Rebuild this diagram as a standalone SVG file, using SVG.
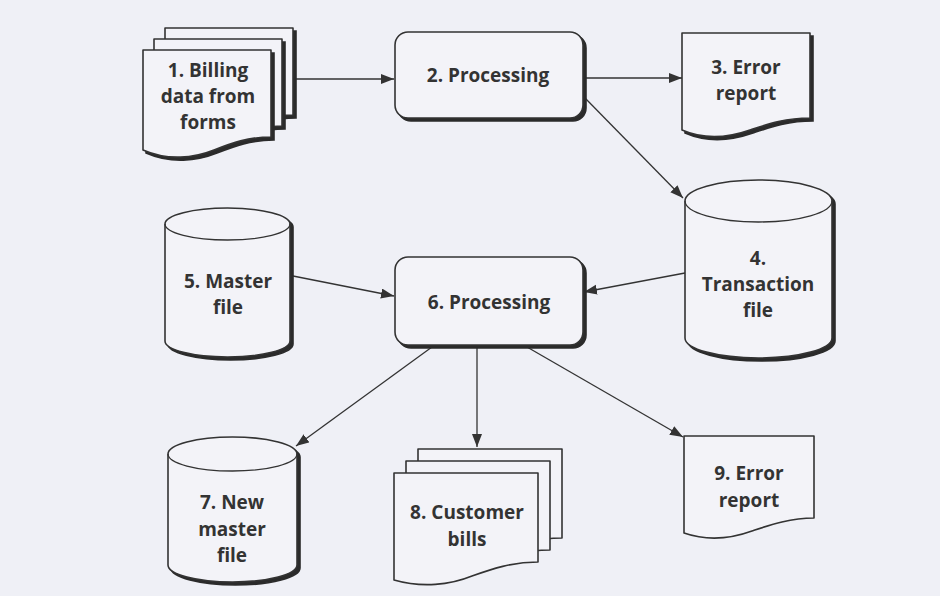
<svg xmlns="http://www.w3.org/2000/svg" xmlns:xlink="http://www.w3.org/1999/xlink" width="940" height="596" viewBox="0 0 940 596">
<defs>
<style>
.shape{fill:#f3f3f8;stroke:#333;stroke-width:1.6;stroke-linejoin:round}
.shadow{fill:#2b2b2b;stroke:#2b2b2b;stroke-width:1.6}
.line{stroke:#333;stroke-width:1.3;fill:none}
.lbl{font-family:"Open Sans","Liberation Sans",sans-serif;font-weight:700;font-size:19px;fill:#333;text-anchor:middle}
</style>
<marker id="arr" markerUnits="userSpaceOnUse" markerWidth="14" markerHeight="12" refX="13" refY="5" orient="auto">
<path d="M0,0 L13,5 L0,10 Z" fill="#333"/>
</marker>
<path id="doc1" d="M143,50 H271 V137 C248,137 232,143 214,150 C194,158 168,161 143,150 Z"/>
<path id="doc8" d="M394,473 H538 V562 C512,562 492,569 472,576 C450,585 422,588 394,580 Z"/>
</defs>
<rect width="940" height="596" fill="#eff0f6"/>

<g id="connectors">
<path class="line" d="M295,79 L394,79" marker-end="url(#arr)"/>
<path class="line" d="M584,78 L682,78" marker-end="url(#arr)"/>
<path class="line" d="M585,98 L683,198" marker-end="url(#arr)"/>
<path class="line" d="M685,273 L584,292" marker-end="url(#arr)"/>
<path class="line" d="M293,276 L394,296" marker-end="url(#arr)"/>
<path class="line" d="M432,347 L296,446" marker-end="url(#arr)"/>
<path class="line" d="M477,347 L477,447" marker-end="url(#arr)"/>
<path class="line" d="M527,347 L683,437" marker-end="url(#arr)"/>
</g>

<g id="n1">
<use xlink:href="#doc1" class="shadow" transform="translate(25,-19)"/>
<use xlink:href="#doc1" class="shape" transform="translate(22,-22)"/>
<use xlink:href="#doc1" class="shadow" transform="translate(14,-8)"/>
<use xlink:href="#doc1" class="shape" transform="translate(11,-11)"/>
<use xlink:href="#doc1" class="shadow" transform="translate(3,3)"/>
<use xlink:href="#doc1" class="shape"/>
<text class="lbl" x="208" y="77">1. Billing</text>
<text class="lbl" x="208" y="103">data from</text>
<text class="lbl" x="208" y="129">forms</text>
</g>

<g id="n2">
<rect class="shadow" x="398" y="35" width="188" height="86" rx="13"/>
<rect class="shape" x="395" y="32" width="188" height="86" rx="13"/>
<text class="lbl" x="488" y="82">2. Processing</text>
</g>

<g id="n3">
<path class="shadow" transform="translate(3,3)" d="M682,33 H810 V118 C785,118 768,124 750,130 C730,137 705,140 682,130 Z"/>
<path class="shape" d="M682,33 H810 V118 C785,118 768,124 750,130 C730,137 705,140 682,130 Z"/>
<text class="lbl" x="746" y="74">3. Error</text>
<text class="lbl" x="746" y="100">report</text>
</g>

<g id="n4">
<path class="shadow" transform="translate(3,3)" d="M685,201 A73.5,21 0 0 1 832,201 V338 A73.5,20 0 0 1 685,338 Z"/>
<path class="shape" d="M685,201 A73.5,21 0 0 1 832,201 V338 A73.5,20 0 0 1 685,338 Z"/>
<path class="line" d="M685,201 A73.5,21 0 0 0 832,201"/>
<text class="lbl" x="758" y="265">4.</text>
<text class="lbl" x="758" y="291">Transaction</text>
<text class="lbl" x="758" y="317">file</text>
</g>

<g id="n5">
<path class="shadow" transform="translate(3,3)" d="M165,224 A62.5,16 0 0 1 290,224 V341 A62.5,16 0 0 1 165,341 Z"/>
<path class="shape" d="M165,224 A62.5,16 0 0 1 290,224 V341 A62.5,16 0 0 1 165,341 Z"/>
<path class="line" d="M165,224 A62.5,16 0 0 0 290,224"/>
<text class="lbl" x="228" y="288">5. Master</text>
<text class="lbl" x="228" y="314">file</text>
</g>

<g id="n6">
<rect class="shadow" x="398" y="260" width="188" height="88" rx="13"/>
<rect class="shape" x="395" y="257" width="188" height="88" rx="13"/>
<text class="lbl" x="489" y="309">6. Processing</text>
</g>

<g id="n7">
<path class="shadow" transform="translate(3,3)" d="M168,454 A64.5,17 0 0 1 297,454 V565 A64.5,17 0 0 1 168,565 Z"/>
<path class="shape" d="M168,454 A64.5,17 0 0 1 297,454 V565 A64.5,17 0 0 1 168,565 Z"/>
<path class="line" d="M168,454 A64.5,17 0 0 0 297,454"/>
<text class="lbl" x="232" y="509">7. New</text>
<text class="lbl" x="232" y="536">master</text>
<text class="lbl" x="232" y="562">file</text>
</g>

<g id="n8">
<use xlink:href="#doc8" class="shape" transform="translate(24,-24)"/>
<use xlink:href="#doc8" class="shape" transform="translate(12,-12)"/>
<use xlink:href="#doc8" class="shape"/>
<text class="lbl" x="467" y="519">8. Customer</text>
<text class="lbl" x="467" y="546">bills</text>
</g>

<g id="n9">
<path class="shape" d="M684,436 H814 V518 C790,518 770,525 752,531 C730,539 707,541 684,533 Z"/>
<text class="lbl" x="749" y="480">9. Error</text>
<text class="lbl" x="749" y="507">report</text>
</g>
</svg>
